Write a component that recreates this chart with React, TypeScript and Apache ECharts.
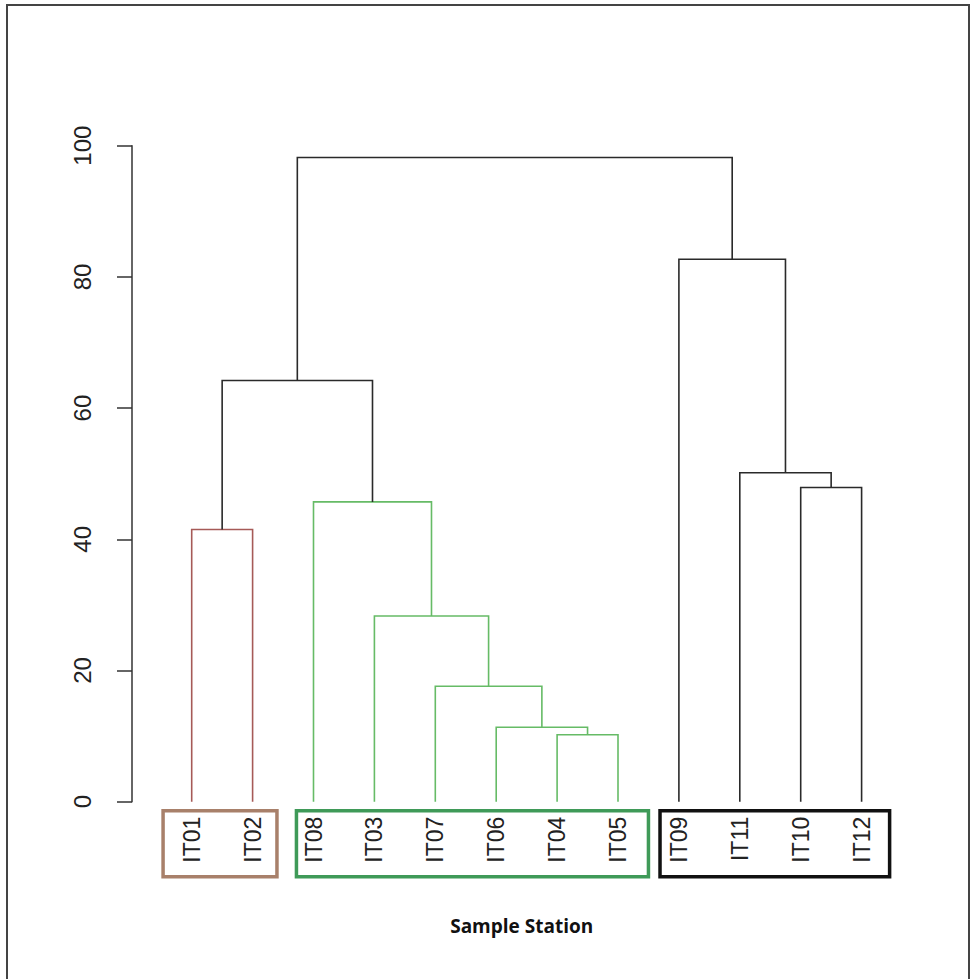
import React, { useEffect, useRef } from "react";
import * as echarts from "echarts";

// Leaf order along the x axis
const leaves = ["IT01", "IT02", "IT08", "IT03", "IT07", "IT06", "IT04", "IT05", "IT09", "IT11", "IT10", "IT12"];

// Merge steps (children are leaf names or "m<k>" references to earlier merges)
const mergeLeft = ["IT04", "IT06", "IT07", "IT03", "IT08", "IT01", "m5", "IT10", "IT11", "IT09", "m6"];
const mergeRight = ["IT05", "m0", "m1", "m2", "m3", "IT02", "m4", "IT12", "m7", "m8", "m9"];
const mergeHeight = [10.2, 11.35, 17.6, 28.3, 45.7, 41.5, 64.2, 47.9, 50.15, 82.7, 98.2];
const mergeGroup = ["green", "green", "green", "green", "green", "red", "black", "black", "black", "black", "black"];

// Y axis ticks
const yTicks = [0, 20, 40, 60, 80, 100];

// Cluster boxes: first and last leaf of each boxed group
const boxFirst = ["IT01", "IT08", "IT09"];
const boxLast = ["IT02", "IT05", "IT12"];
const boxGroup = ["red", "green", "black"];

const LINE_COLORS: Record<string, string> = { red: "#a65a57", green: "#66bb66", black: "#2a2a2a" };
const BOX_COLORS: Record<string, string> = { red: "#a8806a", green: "#3f9a58", black: "#111111" };
const BOX_PAD_L = [0.47, 0.28, 0.31];
const BOX_PAD_R = [0.4, 0.5, 0.46];

function buildSegments() {
  const pos: Record<string, [number, number]> = {};
  leaves.forEach((l, i) => (pos[l] = [i, 0]));
  const segs: any[] = [];
  mergeHeight.forEach((h, k) => {
    const a = pos[mergeLeft[k]];
    const b = pos[mergeRight[k]];
    segs.push({
      coords: [
        [a[0], a[1]],
        [a[0], h],
        [b[0], h],
        [b[0], b[1]],
      ],
      lineStyle: { color: LINE_COLORS[mergeGroup[k]] },
    });
    pos["m" + k] = [(a[0] + b[0]) / 2, h];
  });
  return segs;
}

export default function App() {
  const ref = useRef<HTMLDivElement>(null);
  useEffect(() => {
    if (!ref.current) return;
    const chart = echarts.init(ref.current, undefined, { renderer: "svg" });
    const unit = 60.9;
    const firstX = 191.7;
    const gridLeft = firstX - unit / 2;
    const axisY = 801.7;
    const topY = 145.7;
    const boxData = boxFirst.map((f, i) => [leaves.indexOf(f), leaves.indexOf(boxLast[i]), i]);
    chart.setOption({
      animation: false,
      backgroundColor: "#ffffff",
      grid: {
        left: gridLeft,
        top: topY,
        width: unit * leaves.length,
        height: axisY - topY,
        containLabel: false,
      },
      xAxis: [
        {
          type: "category",
          data: leaves,
          boundaryGap: true,
          axisLine: { show: false },
          axisTick: { show: false },
          axisLabel: {
            rotate: 90,
            interval: 0,
            margin: 15,
            fontSize: 23,
            color: "#222",
            fontFamily: "Liberation Sans, Arial, sans-serif",
          },
        },
        {
          type: "value",
          min: -0.5,
          max: leaves.length - 0.5,
          show: false,
        },
      ],
      yAxis: {
        type: "value",
        min: yTicks[0],
        max: yTicks[yTicks.length - 1],
        interval: 20,
        offset: gridLeft - 132,
        splitLine: { show: false },
        axisLine: { show: true, onZero: false, lineStyle: { color: "#333", width: 1.5 } },
        axisTick: { show: true, length: 15, lineStyle: { color: "#333", width: 1.5 } },
        axisLabel: {
          rotate: 90,
          margin: 38,
          fontSize: 24,
          color: "#222",
          fontFamily: "Liberation Sans, Arial, sans-serif",
        },
      },
      series: [
        {
          type: "lines",
          coordinateSystem: "cartesian2d",
          xAxisIndex: 1,
          polyline: true,
          silent: true,
          lineStyle: { width: 1.6, opacity: 1 },
          data: buildSegments(),
        },
        {
          type: "custom",
          xAxisIndex: 1,
          clip: false,
          silent: true,
          data: boxData,
          renderItem: (params: any, api: any) => {
            const i = api.value(2);
            const p0 = api.coord([api.value(0) - BOX_PAD_L[i], 0]);
            const p1 = api.coord([api.value(1) + BOX_PAD_R[i], 0]);
            return {
              type: "rect",
              shape: { x: p0[0], y: p0[1] + 9, width: p1[0] - p0[0], height: 66 },
              style: { fill: "none", stroke: BOX_COLORS[boxGroup[i]], lineWidth: 3.5 },
            };
          },
        },
      ],
      graphic: [
        {
          type: "rect",
          shape: { x: 7, y: 5, width: 962, height: 990 },
          style: { fill: "none", stroke: "#444", lineWidth: 2 },
          silent: true,
        },
        {
          type: "text",
          x: 521.7,
          y: 926,
          style: {
            text: "Sample Station",
            fontSize: 19,
            fontWeight: "bold",
            fontFamily: "Open Sans, Lato, sans-serif",
            fill: "#111",
            align: "center",
            verticalAlign: "middle",
          },
        },
      ],
    });
    return () => chart.dispose();
  }, []);
  return (
    <div
      ref={ref}
      style={{ position: "fixed", left: 0, top: 0, width: 973, height: 979, background: "#fff" }}
    />
  );
}
